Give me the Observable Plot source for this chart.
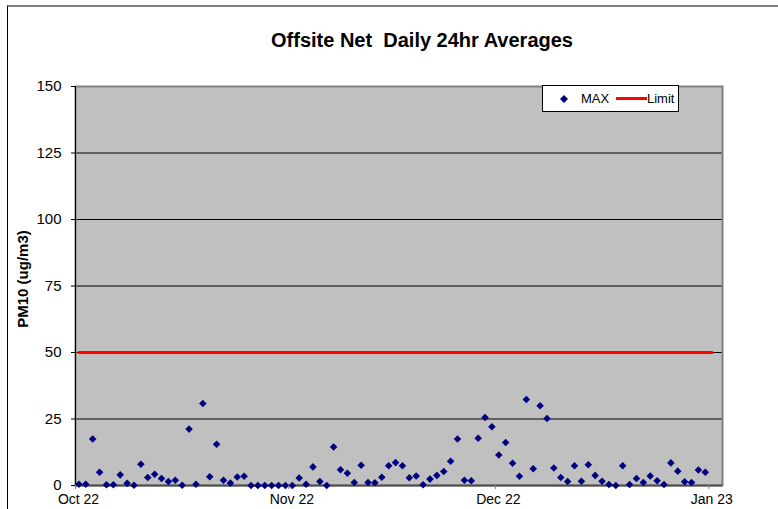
<!DOCTYPE html>
<html>
<head>
<meta charset="utf-8">
<script src="https://cdn.jsdelivr.net/npm/d3@7"></script>
<script src="https://cdn.jsdelivr.net/npm/@observablehq/plot@0.6"></script>
<style>
  body { margin: 0; background: #fff; }
  #wrap { position: relative; width: 778px; height: 509px; overflow: hidden; font-family: "Liberation Sans", Arial, sans-serif; }
  #border { position: absolute; left: 7px; top: 5px; width: 900px; height: 700px; border-left: 1px solid #000; border-top: 2px solid #808080; pointer-events: none; }
  #chart { position: absolute; left: 0; top: 0; }
  #legend { position: absolute; left: 542px; top: 85px; width: 135px; height: 25px; border: 1px solid #000; background: #fff; font-size: 13px; color: #000; }
  #legend .item { position: absolute; top: 0; line-height: 25px; }
</style>
</head>
<body>
<div id="wrap">
  <div id="border"></div>
  <div id="chart"></div>
  <div id="legend">
    <svg style="position:absolute;left:15px;top:7px" width="12" height="12"><path d="M6,2 L10,6 L6,10 L2,6 Z" fill="#000080"/></svg>
    <span class="item" style="left:38px">MAX</span>
    <svg style="position:absolute;left:73px;top:11px" width="31" height="3"><rect x="0" y="0" width="31" height="3" fill="#ff0000"/></svg>
    <span class="item" style="left:104px">Limit</span>
  </div>
</div>
<script>
// ---- data ----
const titleText = "Offsite Net  Daily 24hr Averages";
const yTitle = "PM10 (ug/m3)";
const startDate = "2022-10-01";
const endDate = "2023-01-01";   // exclusive end of MAX series
const limitValue = 50;
const octValues = [0.5, 0.5, 17.5, 5, 0.3, 0.3, 4, 0.8, 0.1, 8, 3, 4.2, 2.6, 1.5, 2, 0.1, 21.2, 0.5, 30.8, 3.3, 15.5, 2, 0.9, 3.2, 3.5, 0, 0, 0, 0, 0, 0];
const novValues = [0, 2.8, 0.5, 7, 1.5, 0, 14.5, 5.9, 4.6, 1.1, 7.6, 1.1, 1, 3.1, 7.4, 8.6, 7.4, 2.9, 3.6, 0.3, 2.4, 3.8, 5.3, 9.1, 17.5, 2, 1.8, 17.8, 25.6, 22.1];
const decValues = [11.5, 16.2, 8.4, 3.5, 32.3, 6.3, 30, 25.2, 6.6, 3, 1.5, 7.4, 1.6, 7.8, 3.8, 1.6, 0.4, 0, 7.4, 0.4, 2.6, 1.1, 3.6, 1.8, 0.4, 8.5, 5.4, 1.4, 1.1, 5.8, 5];
const yTicks = [0, 25, 50, 75, 100, 125, 150];
const gridValues = [25, 50, 75, 100, 125];
const xTickDates = ["2022-10-01", "2022-11-01", "2022-12-01", "2023-01-01"];
const xDomain = ["2022-10-01", "2023-01-03"];

// ---- build tables ----
const parse = d3.utcParse("%Y-%m-%d");
const days = d3.utcDay.range(parse(startDate), parse(endDate));
const maxValues = [...octValues, ...novValues, ...decValues];
const maxData = days.map((d, i) => ({date: d3.utcHour.offset(d, 12), value: maxValues[i]}));
const limitDays = d3.utcDay.range(parse(startDate), d3.utcDay.offset(parse(endDate), 1));
const limitData = limitDays.map(d => ({date: d3.utcHour.offset(d, 12), value: limitValue}));
const xTicks = xTickDates.map(parse);

const chart = Plot.plot({
  width: 778,
  height: 509,
  marginLeft: 75,
  marginRight: 56,
  marginTop: 86,
  marginBottom: 24,
  style: {fontFamily: "'Liberation Sans', Arial, sans-serif", background: "transparent", overflow: "visible", color: "#000"},
  x: {type: "utc", domain: xDomain.map(parse)},
  y: {domain: [0, 150]},
  marks: [
    Plot.frame({fill: "#c0c0c0", stroke: "none"}),
    Plot.ruleY(gridValues, {stroke: "#000", strokeWidth: 1}),
    Plot.frame({stroke: "#808080", strokeWidth: 2, fill: "none"}),
    Plot.ruleX([parse(xDomain[0])], {stroke: "#000", strokeWidth: 1}),
    Plot.ruleY([0], {stroke: "#505050", strokeWidth: 2}),
    Plot.line(limitData, {x: "date", y: "value", stroke: "#ff0000", strokeWidth: 3}),
    Plot.dot(maxData, {x: "date", y: "value", symbol: "diamond2", fill: "#000080", r: 3.4}),
    Plot.axisY({ticks: yTicks, tickSize: 4, tickPadding: 10, fontSize: 15, label: null, stroke: "#000"}),
    Plot.axisX({ticks: xTicks, tickSize: 4, tickFormat: () => "", label: null, stroke: "#808080"}),
    Plot.axisX({ticks: xTicks, tickSize: 0, tickPadding: 9, tickFormat: d3.utcFormat("%b %y"), fontSize: 14, label: null, dx: 3}),
    Plot.text([titleText], {frameAnchor: "top", lineAnchor: "middle", textAnchor: "middle", dy: -46, dx: 23, fontWeight: "bold", fontSize: 20}),
    Plot.text([yTitle], {frameAnchor: "left", lineAnchor: "middle", textAnchor: "middle", rotate: -90, dx: -52, dy: -7, fontWeight: "bold", fontSize: 15})
  ]
});
document.getElementById("chart").appendChild(chart);
</script>
</body>
</html>
